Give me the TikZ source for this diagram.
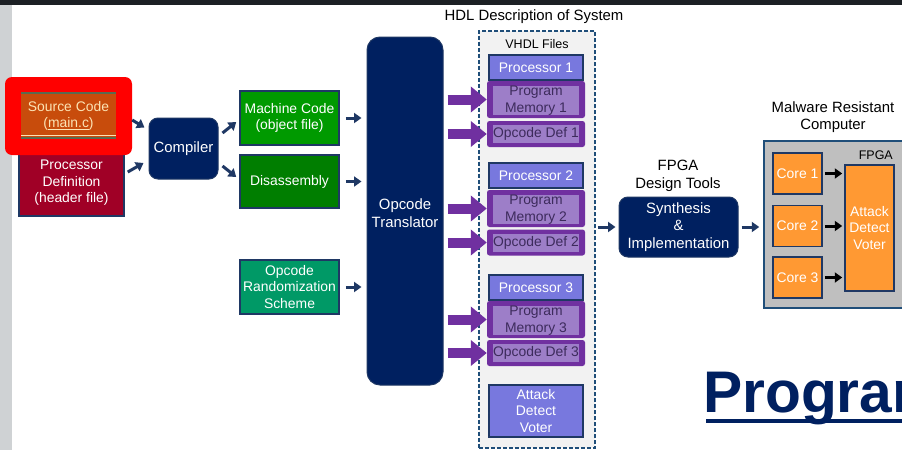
\documentclass[tikz,border=0pt]{standalone}
\usepackage{fontspec}
\setmainfont{Liberation Sans}
\usetikzlibrary{arrows.meta}

\definecolor{navy}{HTML}{002060}
\definecolor{edgeblue}{HTML}{1F3864}
\definecolor{dashblue}{HTML}{1F4E79}
\definecolor{srcorange}{HTML}{C84C0C}
\definecolor{srctext}{HTML}{FCE3B4}
\definecolor{srcline}{HTML}{5A6A50}
\definecolor{hilite}{HTML}{FF0000}
\definecolor{crimson}{HTML}{A00026}
\definecolor{brightgreen}{HTML}{009A00}
\definecolor{darkgreen}{HTML}{007E00}
\definecolor{teal}{HTML}{009966}
\definecolor{periwinkle}{HTML}{7878DE}
\definecolor{purpleout}{HTML}{7030A0}
\definecolor{purplein}{HTML}{9D7EC8}
\definecolor{purpletext}{HTML}{3D2B5C}
\definecolor{panelgrey}{HTML}{F2F2F2}
\definecolor{fpgagrey}{HTML}{BFBFBF}
\definecolor{coreorange}{HTML}{FF9933}
\definecolor{stripgrey}{HTML}{CFD2D4}
\definecolor{topdark}{HTML}{1C2024}

\newcommand\boxfont{\fontsize{13.9}{16.5}\selectfont}
\newcommand\midfont{\fontsize{14.9}{17.5}\selectfont}
\newcommand\smallfont{\fontsize{12.5}{15}\selectfont}

\begin{document}
\begin{tikzpicture}[x=1pt,y=-1pt,
  box/.style={draw=edgeblue, line width=1.5pt, inner sep=0pt, align=center,
    text=white, font=\boxfont},
  roundbox/.style={fill=navy, draw=edgeblue, line width=1pt, inner sep=0pt,
    align=center, text=white, font=\midfont, rounded corners=9pt},
  procbox/.style={box, fill=periwinkle, minimum width=94, minimum height=25},
  purpleouter/.style={fill=purpleout, inner sep=0pt, rounded corners=2.5pt,
    minimum width=98},
  purpleinner/.style={fill=purplein, inner sep=0pt, minimum width=86,
    text=purpletext, font=\boxfont, align=center},
  corebox/.style={box, fill=coreorange, minimum width=49, minimum height=41},
  caption/.style={inner sep=0pt, align=center, font=\midfont, text=black},
  navyarrow/.style={draw=edgeblue, line width=3pt,
    -{Triangle[width=10pt,length=7.5pt]}},
  blackarrow/.style={draw=black, line width=3pt,
    -{Triangle[width=10pt,length=7.5pt]}},
  fatarrow/.style={draw=purpleout, line width=10pt,
    -{Triangle[width=25pt,length=16pt]}}
]
\useasboundingbox (0,0) rectangle (902,450);
\clip (0,0) rectangle (902,450);

% slide background
\fill[white] (0,0) rectangle (902,450);
\fill[stripgrey] (0,0) rectangle (12,450);
\fill[topdark] (0,0) rectangle (902,5);

% ---- inputs ----
\node[box, fill=crimson, minimum width=105, minimum height=76] (pd) at (71.5,178) {};
\node[inner sep=0pt, align=center, text=white, font=\boxfont] (pdtext) at (71.5,183)
  {Processor\\Definition\\(header file)};

\fill[hilite, rounded corners=7pt] (5,77) rectangle (132,155);

\node[inner sep=0pt, fill=srcorange, minimum width=95, minimum height=46,
  align=center, text=srctext, font=\boxfont] (src) at (68.5,116)
  {Source Code\\(\underline{main.c})};
\draw[srcline, line width=1.5pt] (src.north west) -- (src.north east);
\draw[srctext, line width=1pt] ([shift={(0,-4)}]src.south west) -- ([shift={(0,-4)}]src.south east);
\draw[srcline, line width=1.5pt] ([shift={(0,-1)}]src.south west) -- ([shift={(0,-1)}]src.south east);

% ---- compiler stage ----
\node[roundbox, minimum width=69, minimum height=61] (comp) at (183.5,148.5) {Compiler};

\node[box, fill=brightgreen, minimum width=99, minimum height=54] (mach) at (289.5,118)
  {Machine Code\\(object file)};
\node[box, fill=darkgreen, minimum width=99, minimum height=53] (disasm) at (289.5,181.5)
  {Disassembly};
\node[box, fill=teal, minimum width=99, minimum height=54] (rand) at (289.5,287)
  {Opcode\\Randomization\\Scheme};

\draw[navyarrow] ([shift={(16,4)}]src.east) -- ([shift={(-4,-21)}]comp.west);
\draw[navyarrow] ([shift={(3,-6)}]pd.east) -- ([shift={(-5,14.5)}]comp.west);
\draw[navyarrow] ([shift={(4,-15.5)}]comp.east) -- ([shift={(-3,4)}]mach.west);
\draw[navyarrow] ([shift={(4,17.5)}]comp.east) -- ([shift={(-3,-4.5)}]disasm.west);

% ---- opcode translator ----
\node[roundbox, rounded corners=13pt, minimum width=76, minimum height=348] (trans)
  at (405,211) {};
\node[caption, text=white] (transtext) at (405,213) {Opcode\\Translator};

\draw[navyarrow] ([xshift=6]mach.east) -- ([xshift=-5]mach.east -| trans.west);
\draw[navyarrow] ([xshift=6]disasm.east) -- ([xshift=-5]disasm.east -| trans.west);
\draw[navyarrow] ([xshift=6]rand.east) -- ([xshift=-5]rand.east -| trans.west);

% ---- HDL description panel ----
\node[caption] (hdl) at (534,17) {HDL Description of System};
\node[draw=dashblue, dash pattern=on 4pt off 2pt, line width=1.8pt, fill=panelgrey,
  inner sep=0pt, minimum width=116, minimum height=417] (vhdl) at (537,239.5) {};
\node[inner sep=0pt, font=\smallfont] (vhdlfiles) at (537,44) {VHDL Files};

\foreach \i/\py/\my/\oy in {1/67.5/99.5/134, 2/175.5/208.5/242.5, 3/287.5/319.5/353} {
  \node[procbox] (proc\i) at (536,\py) {Processor \i};
  \node[purpleouter, minimum height=37] (pm\i) at (536,\my) {};
  \node[purpleinner, minimum height=29] (pmin\i) at (536,\my+1) {Program\\Memory \i};
  \node[purpleouter, minimum height=26] (od\i) at (536,\oy) {};
  \node[purpleinner, minimum height=18] (odin\i) at (536,\oy) {Opcode Def \i};
  \draw[fatarrow] ([xshift=4]pm\i.west -| trans.east) -- (pm\i.west);
  \draw[fatarrow] ([xshift=4]od\i.west -| trans.east) -- (od\i.west);
}

\node[box, fill=periwinkle, minimum width=94, minimum height=52] (hdlvoter) at (536,411)
  {Attack\\Detect\\Voter};

% ---- FPGA design tools ----
\node[caption] (tools) at (678,176) {FPGA\\Design Tools};
\node[roundbox, minimum width=119, minimum height=60] (synth) at (678.5,227)
  {Synthesis\\\&\\Implementation};
\draw[navyarrow] ([xshift=2]synth.west -| vhdl.east) -- ([xshift=-3]synth.west);

% ---- malware resistant computer ----
\node[caption] (mrc) at (833,117) {Malware Resistant\\Computer};
\node[draw=dashblue, line width=1.5pt, fill=fpgagrey, inner sep=0pt,
  minimum width=142, minimum height=167] (fpga) at (835,224.5) {};
\node[inner sep=0pt, font=\smallfont, anchor=east] (fpgalabel) at (893,155) {FPGA};
\draw[navyarrow] ([xshift=3]synth.east) -- ([xshift=-4]synth.east -| fpga.west);

\node[corebox] (core1) at (797.5,173.5) {Core 1};
\node[corebox] (core2) at (797.5,226) {Core 2};
\node[corebox] (core3) at (797.5,277.5) {Core 3};
\node[box, fill=coreorange, minimum width=49, minimum height=126] (voter) at (869.5,228)
  {Attack\\Detect\\Voter};
\foreach \c in {core1,core2,core3}
  \draw[blackarrow] ([xshift=2]\c.east) -- ([xshift=-2]\c.east -| voter.west);

% ---- slide title, running off the right edge ----
\node[inner sep=0pt, anchor=base west, text=navy,
  font=\fontsize{58.7}{60}\selectfont\bfseries] (prog) at (703,412) {Program};
\draw[navy, line width=4pt] ([shift={(3,9)}]prog.base west) -- ([shift={(3,9)}]prog.base east);
\end{tikzpicture}
\end{document}
